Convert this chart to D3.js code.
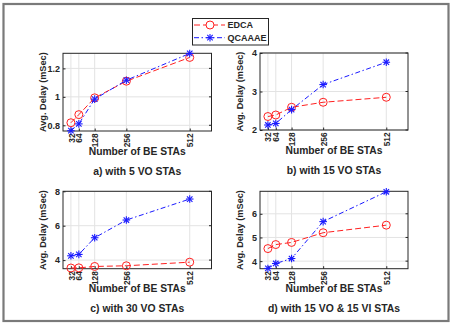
<!doctype html>
<html>
<head>
<meta charset="utf-8">
<title>Avg. Delay vs BE STAs</title>
<script src="https://cdn.jsdelivr.net/npm/d3@7"></script>
<style>
  body { margin: 0; background: #fff; }
  svg text { font-family: 'Liberation Sans', Arial, sans-serif; font-weight: bold; fill: #262626; }
</style>
</head>
<body>
<div id="chart"></div>
<script>

// number of best-effort stations on the x axis
var beStas = [32, 64, 128, 256, 512];

// average delay (mSec) per scenario
var edcaA    = [0.818, 0.875, 0.993, 1.11, 1.277];
var qcaaaeA  = [0.762, 0.81, 0.984, 1.117, 1.305];
var edcaB    = [2.35, 2.39, 2.59, 2.72, 2.85];
var qcaaaeB  = [2.13, 2.17, 2.53, 3.18, 3.76];
var edcaC    = [3.54, 3.55, 3.63, 3.67, 3.88];
var qcaaaeC  = [4.25, 4.33, 5.3, 6.33, 7.55];
var edcaD    = [4.53, 4.7, 4.79, 5.2, 5.52];
var qcaaaeD  = [3.69, 3.9, 4.11, 5.67, 6.93];

var titles = ["a) with 5 VO STAs", "b) with 15 VO STAs", "c) with 30 VO STAs", "d) with 15 VO & 15 VI STAs"];
var yTicksA = [0.8, 1, 1.2];
var yTicksB = [2, 3, 4];
var yTicksC = [4, 6, 8];
var yTicksD = [4, 5, 6];

var width = 452, height = 324;

var svg = d3.select("#chart").append("svg")
  .attr("width", width)
  .attr("height", height);

// outer figure frame
svg.append("rect")
  .attr("x", 3.5).attr("y", 4).attr("width", 445).attr("height", 317)
  .attr("fill", "#fff").attr("stroke", "#7a7a7a").attr("stroke-width", 2.2);

var panels = [
  {edca: edcaA, q: qcaaaeA, ydom: [0.76, 1.306], ticks: yTicksA, box: [63, 211.5, 53.3, 131], title: titles[0]},
  {edca: edcaB, q: qcaaaeB, ydom: [2, 4], ticks: yTicksB, box: [260, 408, 53, 130], title: titles[1]},
  {edca: edcaC, q: qcaaaeC, ydom: [3.5, 8], ticks: yTicksC, box: [63, 211.5, 191.3, 268.7], title: titles[2]},
  {edca: edcaD, q: qcaaaeD, ydom: [3.68, 6.95], ticks: yTicksD, box: [260, 408, 191.3, 268.7], title: titles[3]}
];

var red = "#ff2020", blue = "#1a1aff";

function star(g, x, y, r, color) {
  // '*' marker: plus and cross overlaid
  var s = g.append("g").attr("transform", "translate(" + x + "," + y + ")")
    .attr("stroke", color).attr("stroke-width", 1.1);
  var k = r * 0.72;
  s.append("line").attr("x1", -r).attr("x2", r).attr("y1", 0).attr("y2", 0);
  s.append("line").attr("x1", 0).attr("x2", 0).attr("y1", -r).attr("y2", r);
  s.append("line").attr("x1", -k).attr("x2", k).attr("y1", -k).attr("y2", k);
  s.append("line").attr("x1", -k).attr("x2", k).attr("y1", k).attr("y2", -k);
}

panels.forEach(function(p) {
  var x0 = p.box[0], x1 = p.box[1], y0 = p.box[2], y1 = p.box[3];
  var x = d3.scaleLinear().domain([0, 600]).range([x0, x1]);
  var y = d3.scaleLinear().domain(p.ydom).range([y1, y0]);
  var g = svg.append("g");

  // grid
  g.selectAll(".gx").data(beStas).enter().append("line")
    .attr("x1", function(d){ return x(d); }).attr("x2", function(d){ return x(d); })
    .attr("y1", y0).attr("y2", y1)
    .attr("stroke", "#e3e3e3").attr("stroke-width", 1);
  g.selectAll(".gy").data(p.ticks).enter().append("line")
    .attr("x1", x0).attr("x2", x1)
    .attr("y1", function(d){ return y(d); }).attr("y2", function(d){ return y(d); })
    .attr("stroke", "#e3e3e3").attr("stroke-width", 1);

  // axes, ticks pointing inward
  var xAxis = d3.axisBottom(x).tickValues(beStas).tickSize(-2.5);
  var yAxis = d3.axisLeft(y).tickValues(p.ticks).tickSize(-2.5).tickPadding(3).tickFormat(d3.format(""));

  var gx = g.append("g").attr("transform", "translate(0," + y1 + ")").call(xAxis);
  gx.select(".domain").remove();
  gx.selectAll(".tick line").attr("stroke", "#262626");
  gx.selectAll(".tick text").remove();
  // vertical tick labels, reading upward
  gx.selectAll(".tick").append("text")
    .attr("transform", "translate(3.1,2.5) rotate(-90)")
    .attr("text-anchor", "end")
    .attr("font-size", 8.3)
    .text(function(d){ return d; });

  var gy = g.append("g").attr("transform", "translate(" + x0 + ",0)").call(yAxis);
  gy.select(".domain").remove();
  gy.selectAll(".tick line").attr("stroke", "#262626");
  gy.selectAll(".tick text").attr("font-size", 9);

  // right side ticks
  g.selectAll(".ry").data(p.ticks).enter().append("line")
    .attr("x1", x1).attr("x2", x1 - 2.5)
    .attr("y1", function(d){ return y(d); }).attr("y2", function(d){ return y(d); })
    .attr("stroke", "#262626");

  // box
  g.append("rect")
    .attr("x", x0).attr("y", y0).attr("width", x1 - x0).attr("height", y1 - y0)
    .attr("fill", "none").attr("stroke", "#262626").attr("stroke-width", 1);

  var line = d3.line()
    .x(function(d, i){ return x(beStas[i]); })
    .y(function(d){ return y(d); });

  g.append("path").datum(p.edca).attr("d", line)
    .attr("fill", "none").attr("stroke", red).attr("stroke-width", 1)
    .attr("stroke-dasharray", "6,3");
  g.selectAll(".mk-e").data(p.edca).enter().append("circle")
    .attr("cx", function(d, i){ return x(beStas[i]); })
    .attr("cy", function(d){ return y(d); })
    .attr("r", 4).attr("fill", "none").attr("stroke", red).attr("stroke-width", 1);

  g.append("path").datum(p.q).attr("d", line)
    .attr("fill", "none").attr("stroke", blue).attr("stroke-width", 1)
    .attr("stroke-dasharray", "5,2.5,1.5,2.5");
  p.q.forEach(function(d, i){ star(g, x(beStas[i]), y(d), 3.8, blue); });

  var cx = (x0 + x1) / 2;
  g.append("text").attr("x", cx).attr("y", y1 + 23.5)
    .attr("text-anchor", "middle").attr("font-size", 10.3).text("Number of BE STAs");
  g.append("text").attr("x", cx).attr("y", y1 + 43.5)
    .attr("text-anchor", "middle").attr("font-size", 10.4).text(p.title);
  g.append("text")
    .attr("transform", "translate(" + (x0 - 17) + "," + ((y0 + y1) / 2) + ") rotate(-90)")
    .attr("text-anchor", "middle").attr("font-size", 9.2).text("Avg. Delay (mSec)");
});

// legend
var lg = svg.append("g");
lg.append("rect").attr("x", 192.5).attr("y", 18.5).attr("width", 76).attr("height", 26.5)
  .attr("fill", "#fff").attr("stroke", "#262626").attr("stroke-width", 1);
var legendItems = [{name: "EDCA", color: red, dash: "6,3", y: 25}, {name: "QCAAAE", color: blue, dash: "5,2.5,1.5,2.5", y: 37.7}];
legendItems.forEach(function(it) {
  lg.append("line").attr("x1", 194).attr("x2", 225).attr("y1", it.y).attr("y2", it.y)
    .attr("stroke", it.color).attr("stroke-dasharray", it.dash);
  if (it.name == "EDCA") {
    lg.append("circle").attr("cx", 210).attr("cy", it.y).attr("r", 4)
      .attr("fill", "#fff").attr("stroke", it.color);
  } else {
    star(lg, 210, it.y, 3.8, it.color);
  }
  lg.append("text").attr("x", 227.5).attr("y", it.y).attr("dy", "0.35em")
    .attr("font-size", 9).text(it.name);
});

</script>
</body>
</html>
